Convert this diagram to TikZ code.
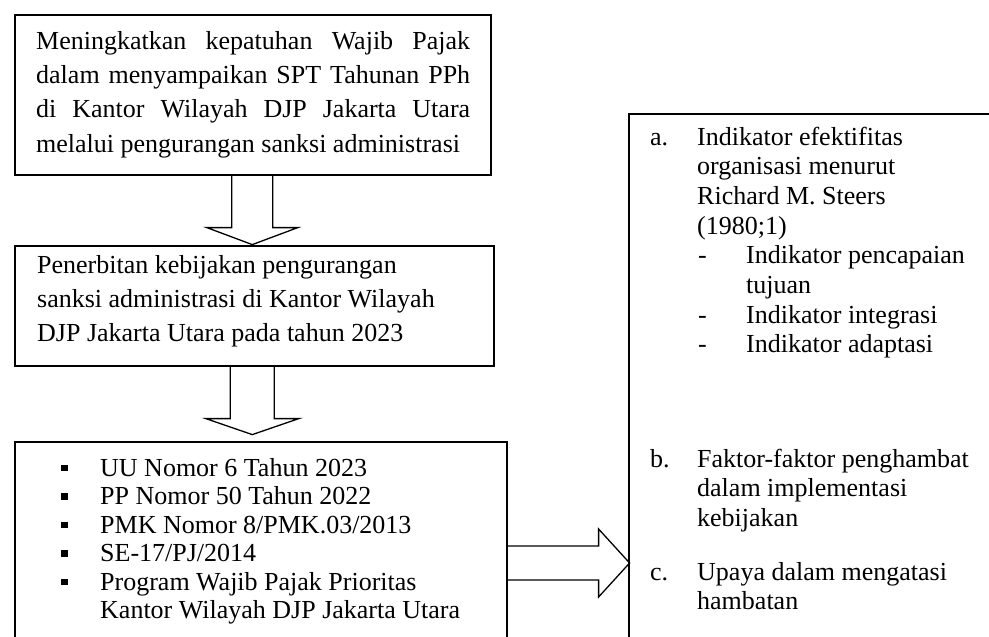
\documentclass[tikz,border=0pt]{standalone}
\usepackage{fontspec}
\setmainfont{Liberation Serif}
\usetikzlibrary{calc}
\begin{document}
\begin{tikzpicture}[x=1pt,y=-1pt,
  box/.style={draw, line width=1.6pt, rectangle, inner sep=0pt, anchor=north west},
  txt/.style={anchor=base west, inner sep=0pt, font=\fontsize{26}{30}\selectfont},
  blockarrow/.style={draw, line width=1.3pt, line join=miter},
  bul/.style={fill=black, inner sep=0pt, minimum size=6.5pt, anchor=center}]
\useasboundingbox (0,0) rectangle (989,637);
\begin{scope}
\clip (0,0) rectangle (989,637);
% boxes
\node[box, minimum width=476pt, minimum height=160pt] (b1) at (14,14) {};
\node[box, minimum width=479pt, minimum height=120pt] (b2) at (14,245) {};
\node[box, minimum width=492pt, minimum height=300pt] (b3) at (14,441) {};
\node[box, minimum width=420pt, minimum height=600pt] (b4) at (628,113) {};
% box 1 text (justified)
\node[txt] (t11) at (36,49)  {\makebox[434pt][s]{Meningkatkan kepatuhan Wajib Pajak}};
\node[txt] (t12) at (36,83.3)  {\makebox[434pt][s]{dalam menyampaikan SPT Tahunan PPh}};
\node[txt] (t13) at (36,117.7) {\makebox[434pt][s]{di Kantor Wilayah DJP Jakarta Utara}};
\node[txt] (t14) at (36,152) {melalui pengurangan sanksi administrasi};
% box 2 text
\node[txt] (t21) at (37,273) {Penerbitan kebijakan pengurangan};
\node[txt] (t22) at (37,307) {sanksi administrasi di Kantor Wilayah};
\node[txt] (t23) at (37,341) {DJP Jakarta Utara pada tahun 2023};
% box 3 bullets
\node[bul] (p1) at (64.5,468) {};
\node[bul] (p2) at (64.5,496.5) {};
\node[bul] (p3) at (64.5,525) {};
\node[bul] (p4) at (64.5,553.5) {};
\node[bul] (p5) at (64.5,582) {};
\node[txt] (t31) at (100,476) {UU Nomor 6 Tahun 2023};
\node[txt] (t32) at (100,504.5) {PP Nomor 50 Tahun 2022};
\node[txt] (t33) at (100,533) {PMK Nomor 8/PMK.03/2013};
\node[txt] (t34) at (100,561.5) {SE-17/PJ/2014};
\node[txt] (t35) at (100,590) {Program Wajib Pajak Prioritas};
\node[txt] (t36) at (100,618.5) {Kantor Wilayah DJP Jakarta Utara};
% right box text
\node[txt] (la) at (650,145) {a.};
\node[txt] (r1) at (697,145) {Indikator efektifitas};
\node[txt] (r2) at (697,174.7) {organisasi menurut};
\node[txt] (r3) at (697,204.4) {Richard M. Steers};
\node[txt] (r4) at (697,234.1) {(1980;1)};
\node[txt] (d1) at (698,263.8) {-};
\node[txt] (r5) at (746,263.8) {Indikator pencapaian};
\node[txt] (r6) at (746,293.5) {tujuan};
\node[txt] (d2) at (698,323.2) {-};
\node[txt] (r7) at (746,323.2) {Indikator integrasi};
\node[txt] (d3) at (698,352.9) {-};
\node[txt] (r8) at (746,352.9) {Indikator adaptasi};
\node[txt] (lb) at (650,467) {b.};
\node[txt] (r9) at (697,467) {Faktor-faktor penghambat};
\node[txt] (r10) at (697,496.7) {dalam implementasi};
\node[txt] (r11) at (697,526.4) {kebijakan};
\node[txt] (lc) at (650,580) {c.};
\node[txt] (r12) at (697,580) {Upaya dalam mengatasi};
\node[txt] (r13) at (697,609.7) {hambatan};
% block arrows
\coordinate (a1) at ($(b1.south)+(-0.5,0)$);
\draw[blockarrow] (a1) +(-20.5,0) -- +(-20.5,52) -- +(-45.5,52) -- +(0,69)
  -- +(45.5,52) -- +(20.5,52) -- +(20.5,0);
\coordinate (a2) at (b2.south -| a1);
\draw[blockarrow] (a2) +(-22,0) -- +(-22,52) -- +(-46.5,52) -- +(0,68)
  -- +(46.5,52) -- +(22,52) -- +(22,0);
\coordinate (a3) at (b3.east |- 0,563);
\draw[blockarrow] (a3) +(0,-17) -- +(91,-17) -- +(91,-34) -- +(122,0)
  -- +(91,34) -- +(91,17) -- +(0,17);
\end{scope}
\end{tikzpicture}
\end{document}
